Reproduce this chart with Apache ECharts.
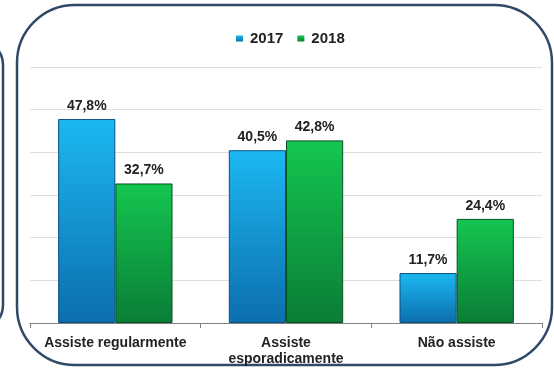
<!DOCTYPE html>
<html>
<head>
<meta charset="utf-8">
<script src="https://cdn.jsdelivr.net/npm/echarts@6/dist/echarts.min.js"></script>
<style>
  html, body { margin: 0; padding: 0; background: #ffffff; }
  #chart { width: 554px; height: 370px; }
</style>
</head>
<body>
<div id="chart"></div>
<script>
// Categories and yearly shares (%)
const categories = ['Assiste regularmente', 'Assiste\nesporadicamente', 'Não assiste'];
const values2017 = [47.8, 40.5, 11.7];
const values2018 = [32.7, 42.8, 24.4];
const seriesNames = ['2017', '2018'];

const FONT = '"Liberation Sans", Arial, sans-serif';

function vGrad(top, bottom) {
  return new echarts.graphic.LinearGradient(0, 0, 0, 1, [
    { offset: 0, color: top },
    { offset: 1, color: bottom }
  ]);
}

const labelStyle = {
  show: true,
  position: 'top',
  distance: 6,
  fontFamily: FONT,
  fontWeight: 'bold',
  fontSize: 14,
  color: '#222222',
  formatter: p => p.value.toFixed(1).replace('.', ',') + '%'
};

const chart = echarts.init(document.getElementById('chart'), null, { renderer: 'canvas' });

chart.setOption({
  animation: false,
  backgroundColor: '#ffffff',
  graphic: [
    {
      type: 'rect',
      shape: { x: 17, y: 5, width: 535, height: 360, r: 58 },
      style: { fill: 'none', stroke: '#2f4a68', lineWidth: 2.5 },
      z: -1
    },
    {
      type: 'rect',
      shape: { x: -60, y: 40, width: 63, height: 290, r: 25 },
      style: { fill: 'none', stroke: '#2f4a68', lineWidth: 2.5 },
      z: -1
    }
  ],
  legend: {
    data: seriesNames,
    top: 31,
    left: 236,
    padding: 0,
    icon: 'rect',
    itemWidth: 7,
    itemHeight: 6,
    itemGap: 14,
    itemStyle: { borderWidth: 0 },
    textStyle: { fontFamily: FONT, fontWeight: 'bold', fontSize: 15, color: '#222222', padding: [0, 0, 0, 2] }
  },
  grid: { left: 30, right: 12, top: 67, bottom: 47, containLabel: false },
  xAxis: {
    type: 'category',
    data: categories,
    axisLine: { lineStyle: { color: '#808080', width: 1 } },
    axisTick: { show: true, alignWithLabel: false, length: 5, lineStyle: { color: '#808080' } },
    axisLabel: {
      interval: 0,
      margin: 12,
      fontFamily: FONT,
      fontWeight: 'bold',
      fontSize: 14,
      lineHeight: 16,
      color: '#222222'
    }
  },
  yAxis: {
    type: 'value',
    min: 0,
    max: 60,
    interval: 10,
    axisLine: { show: false },
    axisTick: { show: false },
    axisLabel: { show: false },
    splitLine: { lineStyle: { color: '#dedede', width: 1 } }
  },
  series: [
    {
      name: seriesNames[0],
      type: 'bar',
      data: values2017,
      barGap: '0%',
      barCategoryGap: '33%',
      itemStyle: {
        color: vGrad('#1cb8f2', '#0c6ead'),
        borderColor: '#0a4f80',
        borderWidth: 1
      },
      label: labelStyle
    },
    {
      name: seriesNames[1],
      type: 'bar',
      data: values2018,
      itemStyle: {
        color: vGrad('#14c650', '#0a7d36'),
        borderColor: '#06501f',
        borderWidth: 1
      },
      label: labelStyle
    }
  ]
});
</script>
</body>
</html>
